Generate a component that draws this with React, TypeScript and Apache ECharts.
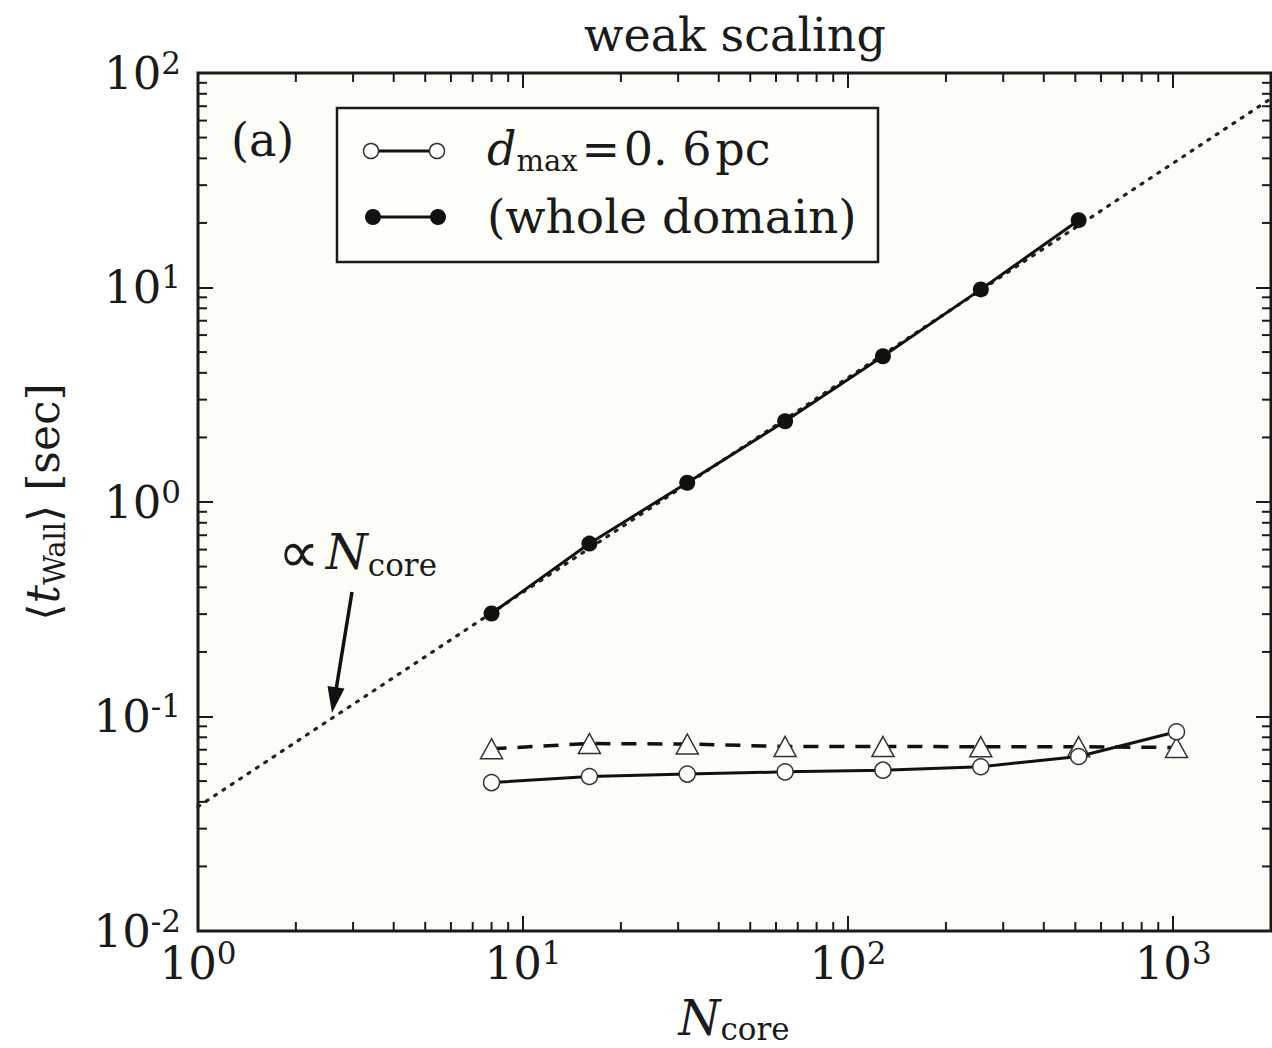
import React, { useEffect, useRef } from 'react';
import * as echarts from 'echarts';

const nCore = [8, 16, 32, 64, 128, 256, 512, 1024];
const wholeDomain = [0.302, 0.64, 1.23, 2.38, 4.78, 9.8, 20.6];
const dmax06 = [0.0492, 0.0525, 0.0539, 0.0552, 0.0562, 0.0583, 0.0651, 0.0849];
const triangles = [0.0707, 0.0748, 0.0744, 0.0725, 0.0725, 0.0723, 0.0723, 0.0717];
const propLine = [[1, 0.038], [2000, 76]];
const xRange = [1, 2000];
const yRange = [0.01, 100];
const xMinorTicks = [2, 3, 4, 5, 6, 7, 8, 9, 20, 30, 40, 50, 60, 70, 80, 90, 200, 300, 400, 500, 600, 700, 800, 900];
const yMinorTicks = [0.02, 0.03, 0.04, 0.05, 0.06, 0.07, 0.08, 0.09, 0.2, 0.3, 0.4, 0.5, 0.6, 0.7, 0.8, 0.9, 2, 3, 4, 5, 6, 7, 8, 9, 20, 30, 40, 50, 60, 70, 80, 90];

const titleText = 'weak scaling';
const legendLabels = ['0. 6', 'pc', '(whole domain)'];
const panelLabel = '(a)';

const F = "'DejaVu Serif',serif";
const INK = '#1a1a1a';

const powLabel = (v: number) => {
  const e = Math.log10(v);
  const r = Math.round(e);
  if (Math.abs(e - r) > 1e-6) return '';
  return `{b|10}{s|${r}}`;
};

const labelRich = {
  b: { fontFamily: F, fontSize: 45, color: INK, lineHeight: 52 },
  s: { fontFamily: F, fontSize: 31, color: INK, lineHeight: 31, verticalAlign: 'top' },
};

export default function App() {
  const ref = useRef<HTMLDivElement>(null);
  useEffect(() => {
    document.body.style.margin = '0';
    document.body.style.overflow = 'hidden';
    const chart = echarts.init(ref.current!, null, { renderer: 'svg' });

    const minorTickRenderer = (axis: 'x' | 'y') => (params: any, api: any) => {
      const cs = params.coordSys;
      const st = { stroke: INK, lineWidth: 2 };
      const len = 9;
      if (axis === 'x') {
        const x = api.coord([api.value(0), 1])[0];
        return {
          type: 'group',
          children: [
            { type: 'line', shape: { x1: x, y1: cs.y + cs.height, x2: x, y2: cs.y + cs.height - len }, style: st },
            { type: 'line', shape: { x1: x, y1: cs.y, x2: x, y2: cs.y + len }, style: st },
          ],
        };
      }
      const y = api.coord([10, api.value(1)])[1];
      return {
        type: 'group',
        children: [
          { type: 'line', shape: { x1: cs.x, y1: y, x2: cs.x + len, y2: y }, style: st },
          { type: 'line', shape: { x1: cs.x + cs.width, y1: y, x2: cs.x + cs.width - len, y2: y }, style: st },
        ],
      };
    };

    const xAxisBase = {
      type: 'log',
      logBase: 10,
      min: xRange[0],
      max: xRange[1],
      interval: 1,
      axisLine: { show: false },
      splitLine: { show: false },
      minorTick: { show: false },
      axisTick: { show: true, inside: true, length: 15, lineStyle: { color: INK, width: 2 } },
    };
    const yAxisBase = {
      type: 'log',
      logBase: 10,
      min: yRange[0],
      max: yRange[1],
      interval: 1,
      axisLine: { show: false },
      splitLine: { show: false },
      minorTick: { show: false },
      axisTick: { show: true, inside: true, length: 15, lineStyle: { color: INK, width: 2 } },
    };

    const option: any = {
      animation: false,
      backgroundColor: '#ffffff',
      grid: {
        left: 198,
        top: 73,
        width: 1073,
        height: 858,
        show: true,
        backgroundColor: '#fdfdf7',
        borderColor: INK,
        borderWidth: 3,
        containLabel: false,
      },
      xAxis: [
        {
          ...xAxisBase,
          position: 'bottom',
          axisLabel: { show: true, margin: 6, formatter: powLabel, rich: labelRich, showMaxLabel: false },
        },
        { ...xAxisBase, position: 'top', axisLabel: { show: false } },
      ],
      yAxis: [
        {
          ...yAxisBase,
          position: 'left',
          axisLabel: { show: true, margin: 17, formatter: powLabel, rich: labelRich },
        },
        { ...yAxisBase, position: 'right', axisLabel: { show: false } },
      ],
      series: [
        {
          type: 'custom',
          silent: true,
          z: 1,
          data: xMinorTicks.map((v) => [v, 1]),
          renderItem: minorTickRenderer('x'),
        },
        {
          type: 'custom',
          silent: true,
          z: 1,
          data: yMinorTicks.map((v) => [10, v]),
          renderItem: minorTickRenderer('y'),
        },
        {
          name: 'proportional',
          type: 'line',
          data: propLine,
          symbol: 'none',
          z: 2,
          lineStyle: { color: '#222', width: 3.2, type: [2, 8], cap: 'round' },
        },
        {
          name: 'whole domain',
          type: 'line',
          data: nCore.slice(0, wholeDomain.length).map((x, i) => [x, wholeDomain[i]]),
          symbol: 'circle',
          symbolSize: 16,
          z: 4,
          itemStyle: { color: '#111' },
          lineStyle: { color: '#111', width: 3 },
        },
        {
          name: 'triangles',
          type: 'line',
          data: nCore.map((x, i) => [x, triangles[i]]),
          symbol: 'triangle',
          symbolSize: [22, 20],
          z: 3,
          itemStyle: { color: '#ffffff', borderColor: '#333', borderWidth: 1.5 },
          lineStyle: { color: '#111', width: 3.5, type: [15, 11] },
        },
        {
          name: 'dmax 0.6 pc',
          type: 'line',
          data: nCore.map((x, i) => [x, dmax06[i]]),
          symbol: 'circle',
          symbolSize: 16,
          z: 5,
          itemStyle: { color: '#ffffff', borderColor: '#333', borderWidth: 1.5 },
          lineStyle: { color: '#111', width: 3 },
        },
      ],
      graphic: [
        {
          type: 'text',
          x: 735,
          y: 35,
          style: { text: titleText, font: `46px ${F}`, fill: INK, textAlign: 'center', textVerticalAlign: 'middle' },
        },
        {
          type: 'text',
          x: 231,
          y: 140,
          style: { text: panelLabel, font: `46px ${F}`, fill: INK, textAlign: 'left', textVerticalAlign: 'middle' },
        },
        // legend box
        {
          type: 'rect',
          shape: { x: 337, y: 108, width: 541, height: 154 },
          style: { fill: '#fefefb', stroke: INK, lineWidth: 2.5 },
          z: 10,
        },
        { type: 'line', shape: { x1: 371, y1: 151, x2: 437, y2: 151 }, style: { stroke: '#111', lineWidth: 3 }, z: 11 },
        { type: 'circle', shape: { cx: 371, cy: 151, r: 7.5 }, style: { fill: '#fff', stroke: '#333', lineWidth: 1.5 }, z: 12 },
        { type: 'circle', shape: { cx: 437, cy: 151, r: 7.5 }, style: { fill: '#fff', stroke: '#333', lineWidth: 1.5 }, z: 12 },
        {
          type: 'text',
          x: 487,
          y: 149,
          z: 12,
          style: {
            text: `{i|d}{sub|max}{th| }{r|=}{th| }{r|${legendLabels[0]}}{th| }{r|${legendLabels[1]}}`,
            textVerticalAlign: 'middle',
            rich: {
              i: { fontFamily: F, fontStyle: 'italic', fontSize: 46, fill: INK, lineHeight: 52 },
              sub: { fontFamily: F, fontSize: 29, fill: INK, lineHeight: 29, verticalAlign: 'bottom' },
              th: { fontFamily: F, fontSize: 12, fill: INK, lineHeight: 12 },
              r: { fontFamily: F, fontSize: 46, fill: INK, lineHeight: 52 },
            },
          },
        },
        { type: 'line', shape: { x1: 373, y1: 217, x2: 438, y2: 217 }, style: { stroke: '#111', lineWidth: 3 }, z: 11 },
        { type: 'circle', shape: { cx: 373, cy: 217, r: 8 }, style: { fill: '#111' }, z: 12 },
        { type: 'circle', shape: { cx: 438, cy: 217, r: 8 }, style: { fill: '#111' }, z: 12 },
        {
          type: 'text',
          x: 487,
          y: 216,
          z: 12,
          style: { text: legendLabels[2], font: `47px ${F}`, fill: INK, textVerticalAlign: 'middle' },
        },
        // proportional annotation
        {
          type: 'text',
          x: 278,
          y: 552,
          z: 12,
          style: {
            text: '{p|∝}{sp| }{n|N}{sub|core}',
            textVerticalAlign: 'middle',
            rich: {
              p: { fontFamily: "'DejaVu Sans',sans-serif", fontSize: 58, fill: INK, lineHeight: 56 },
              sp: { fontFamily: F, fontSize: 20, fill: INK, lineHeight: 20 },
              n: { fontFamily: F, fontStyle: 'italic', fontSize: 48, fill: INK, lineHeight: 56 },
              sub: { fontFamily: F, fontSize: 31, fill: INK, lineHeight: 31, verticalAlign: 'bottom' },
            },
          },
        },
        { type: 'line', shape: { x1: 352, y1: 592, x2: 336, y2: 690 }, style: { stroke: '#111', lineWidth: 3.5 }, z: 12 },
        {
          type: 'polygon',
          shape: { points: [[332, 713], [344.5, 688.5], [327.5, 686]] },
          style: { fill: '#111' },
          z: 12,
        },
        // axis names
        {
          type: 'text',
          x: 734,
          y: 1018,
          style: {
            text: '{n|N}{sub|core}',
            textAlign: 'center',
            textVerticalAlign: 'middle',
            rich: {
              n: { fontFamily: F, fontStyle: 'italic', fontSize: 48, fill: INK, lineHeight: 52 },
              sub: { fontFamily: F, fontSize: 31, fill: INK, lineHeight: 31, verticalAlign: 'bottom' },
            },
          },
        },
        {
          type: 'text',
          x: 43,
          y: 502,
          rotation: Math.PI / 2,
          style: {
            text: '{a|⟨}{t|t}{sub|Wall}{a|⟩ [sec]}',
            textAlign: 'center',
            textVerticalAlign: 'middle',
            rich: {
              a: { fontFamily: F, fontSize: 44, fill: INK, lineHeight: 52 },
              t: { fontFamily: F, fontStyle: 'italic', fontSize: 46, fill: INK, lineHeight: 52 },
              sub: { fontFamily: F, fontSize: 29, fill: INK, lineHeight: 29, verticalAlign: 'bottom' },
            },
          },
        },
      ],
    };
    chart.setOption(option);
    return () => chart.dispose();
  }, []);
  return <div ref={ref} style={{ width: 1272, height: 1048 }} />;
}
